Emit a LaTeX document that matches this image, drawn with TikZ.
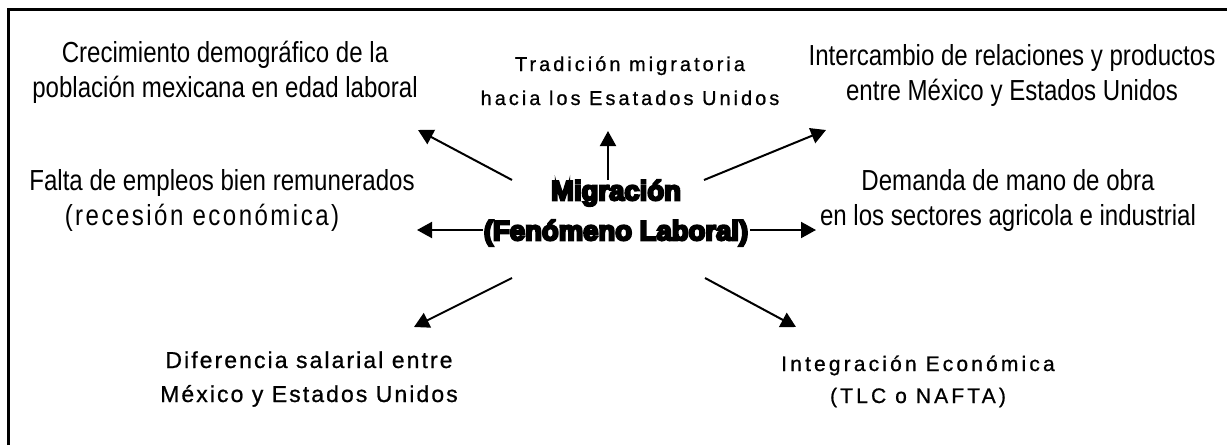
\documentclass[tikz,border=0pt]{standalone}
\usepackage{fontspec}
\setmainfont{Liberation Sans}
\newfontfamily\narrowfont[FakeStretch=0.83]{Liberation Sans}
\newfontfamily\narrowspaced[FakeStretch=0.83,LetterSpace=8.5]{Liberation Sans}
\newfontfamily\widefontA[LetterSpace=15,FakeBold=0.8]{Liberation Sans}
\newfontfamily\widefontB[LetterSpace=9,FakeBold=0.8]{Liberation Sans}
\newfontfamily\widefontC[LetterSpace=15,FakeBold=0.8]{Liberation Sans}
\newfontfamily\heavyfont[FakeBold=8]{Liberation Sans Bold}
\usetikzlibrary{arrows.meta}
\begin{document}
\begin{tikzpicture}[x=1pt,y=-1pt,
  narrowtxt/.style={align=center,inner sep=0pt,anchor=base,font=\narrowfont\fontsize{29}{35}\selectfont},
  toptxt/.style={align=center,inner sep=0pt,anchor=base,font=\widefontA\fontsize{20}{34}\selectfont},
  bltxt/.style={align=center,inner sep=0pt,anchor=base,font=\widefontB\fontsize{23}{34}\selectfont},
  brtxt/.style={align=center,inner sep=0pt,anchor=base,font=\widefontC\fontsize{21}{32}\selectfont},
  centertxt/.style={align=center,inner sep=0pt,font=\heavyfont\fontsize{27.5}{40}\selectfont},
  arr/.style={line width=2pt,-{Triangle[length=15pt,width=16pt]}}]
\useasboundingbox (0,0) rectangle (1229,447);
\fill[white] (0,0) rectangle (1229,447);
\draw[line width=3pt] (8,445) -- (8,9) -- (1227,9);
% texts (anchor = baseline of the last line)
\node[narrowtxt] (tl) at (225,97) {Crecimiento demográfico de la\\población mexicana en edad laboral};
\node[toptxt] (tc) at (630,105) {Tradición migratoria\\hacia los Esatados Unidos};
\node[narrowtxt] (tr) at (1012,100) {Intercambio de relaciones y productos\\entre México y Estados Unidos};
\node[narrowtxt] (ml) at (222,225) {Falta de empleos bien remunerados\\{\narrowspaced (recesión económica)}\hspace*{40pt}};
\node[narrowtxt] (mr) at (1008,225) {Demanda de mano de obra\\en los sectores agricola e industrial};
\node[centertxt] (c) at (616,213) {Migración\\(Fenómeno Laboral)};
\node[bltxt] (bl) at (309,402) {Diferencia salarial entre\\México y Estados Unidos};
\node[brtxt] (br) at (918,403) {Integración Económica\\(TLC o NAFTA)};
% arrow coordinates
\coordinate (sTL) at (512,180); \coordinate (eTL) at (418,130);
\coordinate (sT) at (608,180);  \coordinate (eT) at (608,131);
\coordinate (sTR) at (704,180); \coordinate (eTR) at (826,130);
\coordinate (sL) at (483,230);  \coordinate (eL) at (417,230);
\coordinate (sR) at (750,230);  \coordinate (eR) at (816,230);
\coordinate (sBL) at (512,278); \coordinate (eBL) at (414,327);
\coordinate (sBR) at (705,278); \coordinate (eBR) at (796,327);
\draw[arr] (sTL) -- (eTL);
\draw[arr] (sT) -- (eT);
\draw[arr] (sTR) -- (eTR);
\draw[arr] (sL) -- (eL);
\draw[arr] (sR) -- (eR);
\draw[arr] (sBL) -- (eBL);
\draw[arr] (sBR) -- (eBR);
\end{tikzpicture}
\end{document}
